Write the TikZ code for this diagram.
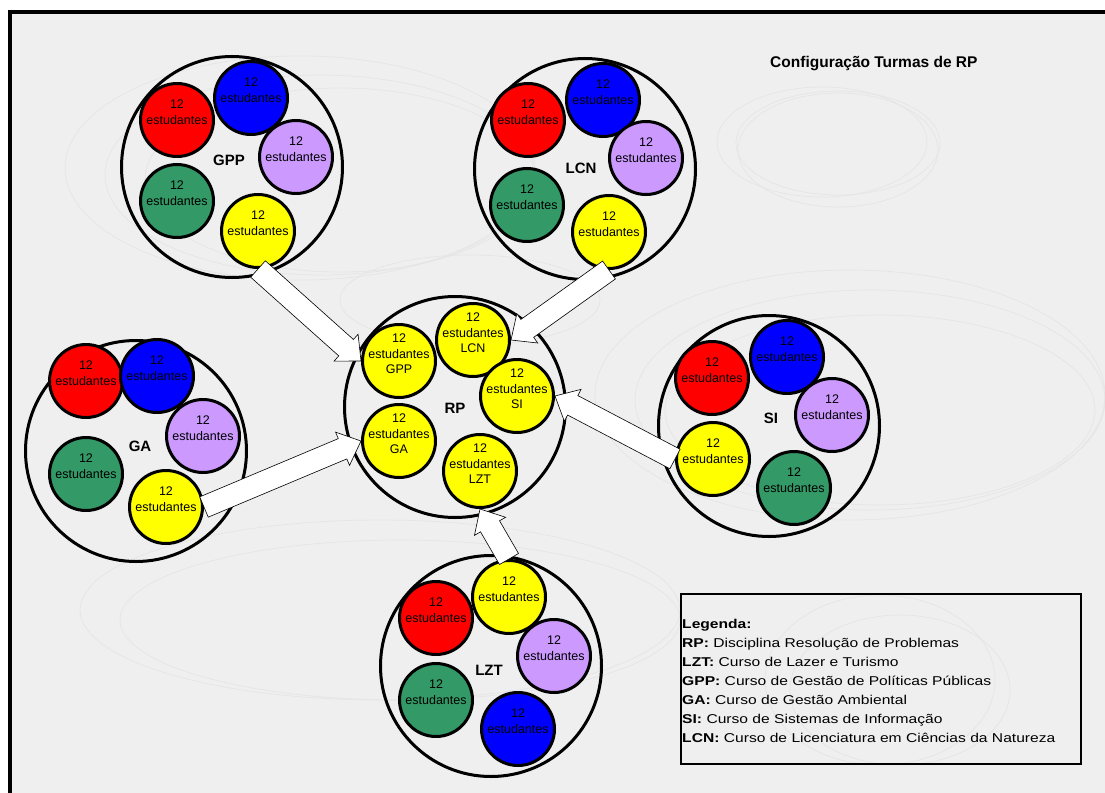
\documentclass[tikz,border=0pt]{standalone}
\usepackage{fontspec}
\usepackage{graphicx}
\setmainfont{Liberation Sans}
\usetikzlibrary{calc}
\definecolor{bgc}{HTML}{EFEFEF}
\definecolor{ellc}{HTML}{E5E5E5}
\definecolor{cred}{HTML}{FF0000}
\definecolor{cblue}{HTML}{0000FF}
\definecolor{cpurple}{HTML}{CC99FF}
\definecolor{cgreen}{HTML}{339966}
\definecolor{cyellow}{HTML}{FFFF00}
\newcommand{\scirc}[4]{%
  \node[smallc, fill=#3] (#1) at (#2) {};
  \node[ctext] (#1t) at ([yshift=8pt]#1.center) {#4};}
\newcommand{\blockarrow}[2]{%
  \coordinate (bah) at ($(#2)!20pt!(#1)$);
  \filldraw[blockarr] ($(#1)!11pt!90:(#2)$) -- ($(bah)!11pt!-90:(#1)$) -- ($(bah)!18pt!-90:(#1)$) -- (#2)
     -- ($(bah)!18pt!90:(#1)$) -- ($(bah)!11pt!90:(#1)$) -- ($(#1)!11pt!-90:(#2)$) -- cycle;}
\begin{document}
\begin{tikzpicture}[x=1pt,y=-1pt,
  smallc/.style={circle, draw=black, line width=3pt, minimum size=73pt, inner sep=0pt},
  bigc/.style={circle, draw=black, line width=3pt, minimum size=221pt, inner sep=0pt},
  ctext/.style={font=\fontsize{12.5}{15.5}\selectfont, align=center, inner sep=0pt},
  glabel/.style={font=\bfseries\fontsize{15}{18}\selectfont, inner sep=0pt},
  blockarr/.style={fill=white, draw=black, line width=0.6pt, line join=miter},
  ell/.style={draw=ellc, line width=0.7pt},
  leg/.style={anchor=base west, inner sep=0pt, font=\fontsize{12.8}{15}\selectfont}]
\useasboundingbox (0,0) rectangle (1105,792);
\clip (0,0) rectangle (1105,792);
\fill[white] (0,0) rectangle (1105,792);
\fill[bgc] (10,12) rectangle (1110,800);
% faint background ellipses
\draw[ell] (300,168) ellipse (235 and 112);
\draw[ell] (320,175) ellipse (215 and 100);
\draw[ell] (340,180) ellipse (195 and 92);
\draw[ell] (470,300) ellipse (130 and 45);
\draw[ell] (822,142) ellipse (105 and 55);
\draw[ell] (838,143) ellipse (102 and 52);
\draw[ell] (838,150) ellipse (100 and 57);
\draw[ell] (850,395) ellipse (255 and 125);
\draw[ell] (870,400) ellipse (235 and 110);
\draw[ell] (880,410) ellipse (215 and 95);
\draw[ell] (380,610) ellipse (300 and 90);
\draw[ell] (400,620) ellipse (280 and 80);
\draw[ell] (880,680) ellipse (115 and 85);
\draw[ell] (900,690) ellipse (110 and 75);
% frame
\draw[line width=4pt] (10,800) -- (10,12) -- (1110,12);
% title
\node[anchor=base west, inner sep=0pt, font=\bfseries\fontsize{15.5}{18}\selectfont] (title) at (770,67.5) {Configuração Turmas de RP};
% GPP group
\node[bigc] (gpp) at (232,167) {};
\scirc{gppR}{177,120}{cred}{12\\estudantes}
\scirc{gppB}{251,98}{cblue}{12\\estudantes}
\scirc{gppP}{296,157}{cpurple}{12\\estudantes}
\scirc{gppG}{177,201}{cgreen}{12\\estudantes}
\scirc{gppY}{258,231}{cyellow}{12\\estudantes}
\node[glabel] (gppl) at (229,160) {GPP};
% LCN group
\node[bigc] (lcn) at (585,169) {};
\scirc{lcnR}{528,120}{cred}{12\\estudantes}
\scirc{lcnB}{603,100}{cblue}{12\\estudantes}
\scirc{lcnP}{646,158}{cpurple}{12\\estudantes}
\scirc{lcnG}{527,205}{cgreen}{12\\estudantes}
\scirc{lcnY}{609,232}{cyellow}{12\\estudantes}
\node[glabel] (lcnl) at (581,168) {LCN};
% GA group
\node[bigc] (ga) at (136,451) {};
\scirc{gaR}{86,381}{cred}{12\\estudantes}
\scirc{gaB}{157,376}{cblue}{12\\estudantes}
\scirc{gaP}{203,436}{cpurple}{12\\estudantes}
\scirc{gaG}{86,474}{cgreen}{12\\estudantes}
\scirc{gaY}{166,507}{cyellow}{12\\estudantes}
\node[glabel] (gal) at (140,446) {GA};
% SI group
\node[bigc] (si) at (769,426) {};
\scirc{siR}{712,378}{cred}{12\\estudantes}
\scirc{siB}{787,357}{cblue}{12\\estudantes}
\scirc{siP}{832,415}{cpurple}{12\\estudantes}
\scirc{siY}{713,459}{cyellow}{12\\estudantes}
\scirc{siG}{794,488}{cgreen}{12\\estudantes}
\node[glabel] (sil) at (771,418) {SI};
% LZT group
\node[bigc] (lzt) at (491,666) {};
\scirc{lztY}{509,597}{cyellow}{12\\estudantes}
\scirc{lztR}{436,618}{cred}{12\\estudantes}
\scirc{lztP}{554,656}{cpurple}{12\\estudantes}
\scirc{lztG}{436,700}{cgreen}{12\\estudantes}
\scirc{lztB}{518,729}{cblue}{12\\estudantes}
\node[glabel] (lztl) at (489,670) {LZT};
% RP group
\node[bigc] (rp) at (455,407) {};
\node[smallc, fill=cyellow] (rpGPP) at (399,361) {};
\node[ctext] (rpGPPt) at ([yshift=7pt]rpGPP.center) {12\\estudantes\\GPP};
\node[smallc, fill=cyellow] (rpLCN) at (473,340) {};
\node[ctext] (rpLCNt) at ([yshift=7pt]rpLCN.center) {12\\estudantes\\LCN};
\node[smallc, fill=cyellow] (rpSI) at (517,396) {};
\node[ctext] (rpSIt) at ([yshift=7pt]rpSI.center) {12\\estudantes\\SI};
\node[smallc, fill=cyellow] (rpGA) at (399,441) {};
\node[ctext] (rpGAt) at ([yshift=7pt]rpGA.center) {12\\estudantes\\GA};
\node[smallc, fill=cyellow] (rpLZT) at (480,471) {};
\node[ctext] (rpLZTt) at ([yshift=7pt]rpLZT.center) {12\\estudantes\\LZT};
\node[glabel] (rpl) at (455,408) {RP};
% arrows
\blockarrow{gppY.south}{rpGPP.west}
\blockarrow{lcnY.south}{rpLCN.east}
\blockarrow{siY.west}{rpSI.east}
\blockarrow{gaY.east}{rpGA.west}
\blockarrow{lztY.north}{rpLZT.south}
% legend
\node[draw=black, line width=2pt, minimum width=400pt, minimum height=170pt, anchor=north west, inner sep=0pt] (legbox) at (680,593) {};
\node[leg] (l0) at (682,628) {\scalebox{1.22}[1]{\textbf{Legenda:}}};
\node[leg] (l1) at (682,647) {\scalebox{1.22}[1]{\textbf{RP:} Disciplina Resolução de Problemas}};
\node[leg] (l2) at (682,666) {\scalebox{1.22}[1]{\textbf{LZT:} Curso de Lazer e Turismo}};
\node[leg] (l3) at (682,685) {\scalebox{1.22}[1]{\textbf{GPP:} Curso de Gestão de Políticas Públicas}};
\node[leg] (l4) at (682,704) {\scalebox{1.22}[1]{\textbf{GA:} Curso de Gestão Ambiental}};
\node[leg] (l5) at (682,723) {\scalebox{1.22}[1]{\textbf{SI:} Curso de Sistemas de Informação}};
\node[leg] (l6) at (682,742) {\scalebox{1.22}[1]{\textbf{LCN:} Curso de Licenciatura em Ciências da Natureza}};
\end{tikzpicture}
\end{document}
